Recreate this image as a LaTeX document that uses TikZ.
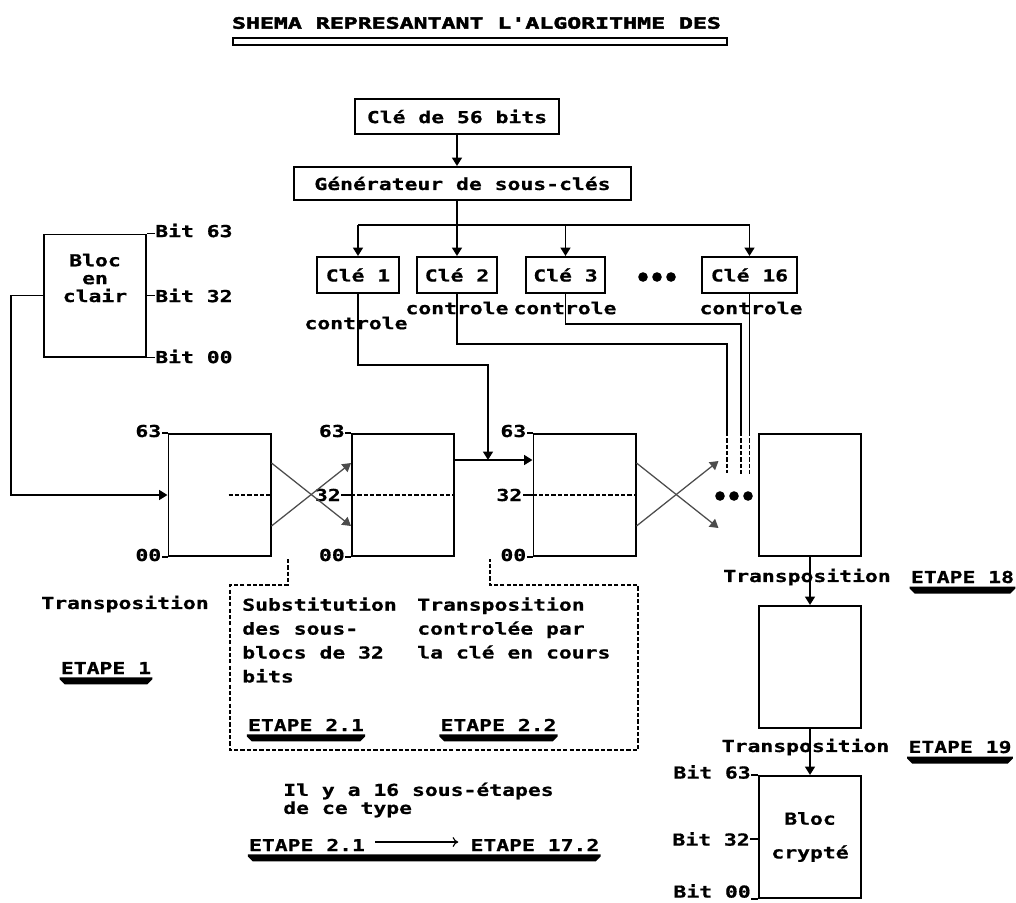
\documentclass[tikz,border=0pt]{standalone}
\usepackage{fontspec}
\newfontfamily\pixfont{DejaVu Sans Mono}[FakeStretch=1.3, BoldFeatures={FakeBold=0.8}]
\newfontfamily\titlefont{DejaVu Sans Mono}[UprightFont=* Bold, FakeStretch=1.5, FakeBold=3]
\usetikzlibrary{arrows.meta, calc, positioning}

% thick bar under the ETAPE labels
\newcommand\etapebar[2]{%
  \fill ($(#1.south west)+(-1,3)$) -- ($(#2.south east)+(1,3)$) -- ($(#2.south east)+(1,5)$)
    -- ($(#2.south east)+(-4,10)$) -- ($(#1.south west)+(4,10)$) -- ($(#1.south west)+(-1,5)$) -- cycle;}

\begin{document}
\begin{tikzpicture}[x=0.025cm, y=-0.025cm,
    every node/.style={font=\pixfont\bfseries\fontsize{11.7pt}{17pt}\selectfont, inner sep=0pt},
    box/.style={draw, line width=1.4pt},
    blk/.style={draw, line width=1.4pt, minimum width=2.55cm, minimum height=3.05cm},
    wire/.style={line width=1.4pt},
    arr/.style={line width=1.4pt, -{Triangle[length=6pt,width=7pt]}},
    xline/.style={line width=0.9pt, black!70, -{Triangle[length=6pt,width=7pt]}},
    dashline/.style={line width=1pt, dash pattern=on 3pt off 1.5pt}]
    \useasboundingbox (0,0) rectangle (1016,902);

    % Title
    \node (title) at (476.5,23) [font=\titlefont\fontsize{11pt}{12pt}\selectfont] {SHEMA REPRESANTANT L'ALGORITHME DES};
    \draw[line width=1.4pt, fill=white] (233,38) rectangle (727,45);

    % Key and sub-key generator
    \node (cle56) at (457,116.5) [box, minimum width=5.1cm, minimum height=0.875cm] {Clé de 56 bits};
    \node (gen) at (462.5,183.5) [box, minimum width=8.425cm, minimum height=0.825cm] {Générateur de sous-clés};
    \draw[arr] (cle56.south) -- (cle56.south |- gen.north);

    % The sub-keys
    \node (cle1) at (358,275) [box, minimum width=2.05cm, minimum height=0.9cm] {Clé 1};
    \node (cle2) at (457,275) [box, minimum width=2cm, minimum height=0.9cm] {Clé 2};
    \node (cle3) at (565.5,275) [box, minimum width=1.975cm, minimum height=0.9cm] {Clé 3};
    \node (cle16) at (749.5,275) [box, minimum width=2.375cm, minimum height=0.9cm] {Clé 16};
    \foreach \i in {643,657,671} \fill (\i,277) circle (0.12cm);

    \coordinate (bus) at (457,225);
    \draw[wire] (cle56.south |- gen.south) -- (bus);
    \draw[wire] (cle1.north |- bus) -- (cle16.north |- bus);
    \foreach \k in {cle1,cle2,cle3,cle16} \draw[arr] (\k.north |- bus) -- (\k.north);

    \node (ctl1) at (356,323) {controle};
    \node (ctl2) at (457,308) {controle};
    \node (ctl3) at (565,308) {controle};
    \node (ctl16) at (751,308) {controle};

    % Bloc en clair
    \node (clair) at (95,295.5) [blk] {};
    \node (clairtxt) at (95,278) [align=center, font=\pixfont\bfseries\fontsize{11.7pt}{12.7pt}\selectfont] {Bloc\\en\\clair};
    \node (clairhi) at ($(clair.north east)+(8,-3)$) [anchor=west] {Bit 63};
    \node (clairmid) at ($(clair.east)+(8,0)$) [anchor=west] {Bit 32};
    \node (clairlo) at ($(clair.south east)+(8,-1)$) [anchor=west] {Bit 00};
    \draw[wire] (clair.north east) -- (clairhi.west |- clair.north east);
    \draw[wire] (clair.east) -- (clairmid.west);
    \draw[wire] (clair.south east) -- (clairlo.west |- clair.south east);

    % The 64 bit blocks
    \node (b1) at (219.5,495) [blk] {};
    \node (b2) at (403,495) [blk] {};
    \node (b3) at (584.5,495) [blk] {};
    \node (b4) at (810,495) [blk] {};
    \node (b5) at (810,667) [blk] {};
    \node (b6) at (810,837) [blk] {};

    \foreach \b in {b1,b2,b3} {
        \node (\b-hi) at ($(\b.north west)+(-6,-2)$) [anchor=east] {63};
        \node (\b-lo) at ($(\b.south west)+(-6,-2)$) [anchor=east] {00};
        \draw[wire] (\b.north west) -- (\b-hi.east |- \b.north west);
        \draw[wire] (\b.south west) -- (\b-lo.east |- \b.south west);
    }
    \foreach \b in {b2,b3} {
        \node (\b-mid) at ($(\b.west)+(-10,0)$) [anchor=east] {32};
        \draw[wire] (\b.west) -- (\b-mid.east);
        \draw[dashline] (\b.west) -- (\b.east);
    }
    \draw[dashline] ($(b1.east)+(-43,0)$) -- (b1.east);

    % Input of the plain block
    \draw[arr] (clair.west) -- ++(-32,0) |- (b1.west);

    % Substitution of the two halves
    \draw[xline] ($(b1.east)+(0,-32)$) -- ($(b2.west)+(0,31)$);
    \draw[xline] ($(b1.east)+(0,31)$) -- ($(b2.west)+(0,-32)$);
    \coordinate (o1) at ($(b3.east)+(82,33)$);
    \coordinate (o2) at ($(b3.east)+(82,-34)$);
    \draw[xline] ($(b3.east)+(0,-32)$) -- (o1);
    \draw[xline] ($(b3.east)+(0,31)$) -- (o2);
    \foreach \i in {720,734,748} \fill (\i,496) circle (0.12cm);

    % Controlled transposition
    \draw[arr] ($(b2.east)+(0,-35)$) -- ($(b3.west)+(0,-35)$);
    \coordinate (j1) at (488,460);
    \draw[arr] (cle1.south) -- ++(0,71) -| (j1);

    \coordinate (c2) at (727,432);
    \coordinate (c3) at (741,432);
    \coordinate (c16) at (cle16.south |- c2);
    \draw[wire] (cle2.south) -- ++(0,50) -| (c2);
    \draw[wire] (cle3.south) -- ++(0,30) -| (c3);
    \draw[wire] (cle16.south) -- (c16);
    \draw[dashline] (c2) -- ++(0,41);
    \draw[dashline] (c3) -- ++(0,43);
    \draw[dashline] (c16) -- ++(0,43);

    % Last transpositions
    \node (tr18) at (807,577) {Transposition};
    \node (tr19) at (805.5,747) {Transposition};
    \draw[arr] (b4.south) -- (b5.north);
    \draw[arr] (b5.south) -- (b6.north);
    \node (e18) at (962.5,577) {ETAPE 18};
    \node (e19) at (960,747) {ETAPE 19};
    \etapebar{e18}{e18}
    \etapebar{e19}{e19}

    % Bloc crypte
    \node (crypt) at (b6) [align=center, font=\pixfont\bfseries\fontsize{11.7pt}{24pt}\selectfont] {Bloc\\crypté};
    \node (cryhi) at ($(b6.north west)+(-7,-3)$) [anchor=east] {Bit 63};
    \node (crymid) at ($(b6.west)+(-8,2)$) [anchor=east] {Bit 32};
    \node (crylo) at ($(b6.south west)+(-7,-8)$) [anchor=east] {Bit 00};
    \draw[wire] (b6.north west) -- (cryhi.east |- b6.north west);
    \draw[wire] (b6.west |- crymid.east) -- (crymid.east);
    \draw[wire] (b6.south west) -- (crylo.east |- b6.south west);

    % Comments under the blocks
    \node (tr1) at (125,604) {Transposition};
    \node (e1) at (106,668) {ETAPE 1};
    \etapebar{e1}{e1}

    \node (subst) at (242,640) [anchor=west, align=left] {Substitution\\des sous-\\blocs de 32\\bits};
    \node (trctl) at (417,628) [anchor=west, align=left] {Transposition\\controlée par\\la clé en cours};
    \node (e21) at (306,725) {ETAPE 2.1};
    \node (e22) at (498.5,725) {ETAPE 2.2};
    \etapebar{e21}{e21}
    \etapebar{e22}{e22}

    \coordinate (s1) at (288,559);
    \coordinate (s2) at (490,559);
    \draw[dashline] (s1) -- (288,585) -- (230,585) -- (230,750) -- (638,750) -- (638,585) -- (490,585) -- (s2);

    \node (soustxt) at (283,800) [anchor=west, align=left, font=\pixfont\bfseries\fontsize{11.7pt}{12.8pt}\selectfont] {Il y a 16 sous-étapes\\de ce type};
    \node (e21b) at (307,845) {ETAPE 2.1};
    \node (e172) [right=2.625cm of e21b] {ETAPE 17.2};
    \draw[line width=0.8pt, -{To[length=4pt,width=7pt]}] ($(e21b.east)+(10,-3)$) -- ($(e172.west)+(-12,-3)$);
    \etapebar{e21b}{e172}

\end{tikzpicture}
\end{document}
